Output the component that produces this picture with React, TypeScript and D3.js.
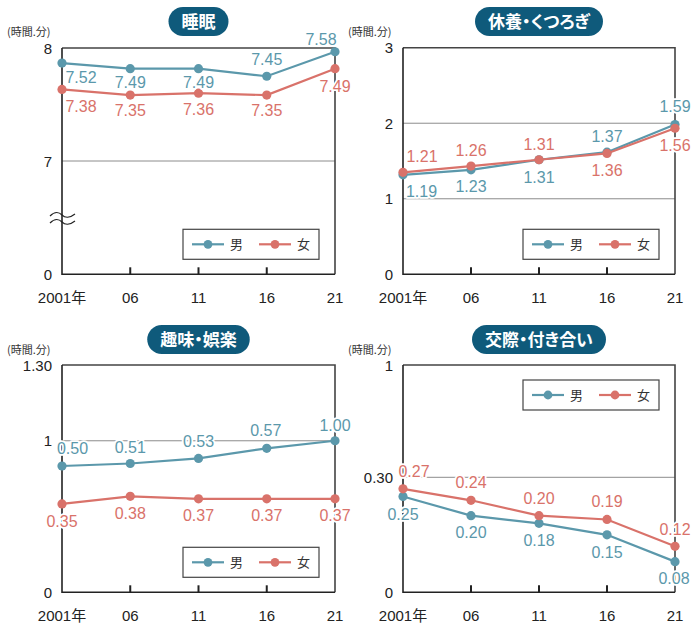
import React, { useEffect, useRef } from 'react';
import * as d3 from 'd3';

// ---- data (hours.minutes) ----
const years = ['2001年', '06', '11', '16', '21'];
const seriesNames = ['男', '女'];
const titles = ['睡眠', '休養・くつろぎ', '趣味・娯楽', '交際・付き合い'];
const unitLabel = '(時間.分)';

const sleepMale = ['7.52', '7.49', '7.49', '7.45', '7.58'];
const sleepFemale = ['7.38', '7.35', '7.36', '7.35', '7.49'];
const restMale = ['1.19', '1.23', '1.31', '1.37', '1.59'];
const restFemale = ['1.21', '1.26', '1.31', '1.36', '1.56'];
const hobbyMale = ['0.50', '0.51', '0.53', '0.57', '1.00'];
const hobbyFemale = ['0.35', '0.38', '0.37', '0.37', '0.37'];
const socialMale = ['0.25', '0.20', '0.18', '0.15', '0.08'];
const socialFemale = ['0.27', '0.24', '0.20', '0.19', '0.12'];

const sleepTicks = ['0', '7', '8'];
const restTicks = ['0', '1', '2', '3'];
const hobbyTicks = ['0', '1', '1.30'];
const socialTicks = ['0', '0.30', '1'];

const sleepGrid = ['7'];
const restGrid = ['1', '2'];
const hobbyGrid = ['1'];
const socialGrid = ['0.30'];

const toMin = (s: string) => {
  const [h, m] = s.split('.');
  return +h * 60 + (m ? +m : 0);
};

// ---- layout ----
const MALE = '#5b98ab';
const FEMALE = '#d9726a';
const TITLE_BG = '#0f5a7b';
const NUM_FONT = '"Liberation Sans", Arial, "Noto Sans CJK JP", sans-serif';
const CJK_FONT = '"Noto Sans CJK JP", "Noto Sans", sans-serif';

const panels = [
  {
    title: titles[0], male: sleepMale, female: sleepFemale, ticks: sleepTicks, grid: sleepGrid,
    x0: 62, x1: 335, yDomain: [0, 420, 480], yRange: [274.3, 161, 48],
    brk: true, legendTop: false, unitY: 32, titleY: 21.5,
    maleOff: [[19, 14], [0, 13.5], [0, 13], [0, -17], [-14, -13]],
    femaleOff: [[19, 17], [0, 15.5], [0, 16], [0, 15.5], [0, 17]],
  },
  {
    title: titles[1], male: restMale, female: restFemale, ticks: restTicks, grid: restGrid,
    x0: 403, x1: 675, yDomain: [0, 180], yRange: [274.3, 47.7],
    brk: false, legendTop: false, unitY: 32, titleY: 21.5,
    maleOff: [[18.5, 16], [0, 16], [0, 17], [0, -16], [0, -18]],
    femaleOff: [[19, -16], [0, -16], [0, -16], [0, 17], [0, 17]],
  },
  {
    title: titles[2], male: hobbyMale, female: hobbyFemale, ticks: hobbyTicks, grid: hobbyGrid,
    x0: 62, x1: 335, yDomain: [0, 90], yRange: [592.3, 365],
    brk: false, legendTop: false, unitY: 350, titleY: 339.5,
    maleOff: [[10.5, -18], [0, -16.5], [0, -17.5], [-1, -18], [0, -16]],
    femaleOff: [[0, 17], [0, 16.7], [0, 16.3], [0, 16.3], [0, 16.3]],
  },
  {
    title: titles[3], male: socialMale, female: socialFemale, ticks: socialTicks, grid: socialGrid,
    x0: 403, x1: 675, yDomain: [0, 30, 60], yRange: [592.3, 477.3, 365],
    brk: false, legendTop: true, unitY: 350, titleY: 339.5,
    maleOff: [[0, 17.5], [0, 17], [0, 17], [0, 17], [-1, 17]],
    femaleOff: [[11, -18], [0, -18], [0, -17], [0, -18], [0, -17]],
  },
];

export default function App() {
  const ref = useRef<SVGSVGElement>(null);

  useEffect(() => {
    const svg = d3.select(ref.current);
    svg.selectAll('*').remove();

    panels.forEach((p) => {
      const g = svg.append('g');
      const x = d3.scalePoint<string>().domain(years).range([p.x0, p.x1]);
      const y = d3.scaleLinear().domain(p.yDomain).range(p.yRange);
      const y0 = y(0);
      const yTop = y(p.yDomain[p.yDomain.length - 1]);

      // grid
      g.selectAll('line.grid').data(p.grid).enter().append('line')
        .attr('x1', p.x0).attr('x2', p.x1)
        .attr('y1', (d) => y(toMin(d))).attr('y2', (d) => y(toMin(d)))
        .attr('stroke', '#8c8c8c').attr('stroke-width', 1);

      // frame
      g.append('path')
        .attr('d', `M${p.x0},${yTop}H${p.x1}V${y0}`)
        .attr('fill', 'none').attr('stroke', '#444').attr('stroke-width', 1.6);
      g.append('path')
        .attr('d', `M${p.x0},${yTop}V${y0}H${p.x1}`)
        .attr('fill', 'none').attr('stroke', '#222').attr('stroke-width', 1.6);

      // x ticks (inner)
      g.selectAll('line.xt').data(years.slice(1, -1)).enter().append('line')
        .attr('x1', (d) => x(d)!).attr('x2', (d) => x(d)!)
        .attr('y1', y0).attr('y2', y0 - 7)
        .attr('stroke', '#222').attr('stroke-width', 2);

      // x labels
      g.selectAll('text.xl').data(years).enter().append('text')
        .attr('x', (d) => x(d)!).attr('y', y0 + 28.5)
        .attr('text-anchor', 'middle')
        .attr('font-family', NUM_FONT).attr('font-size', 15).attr('fill', '#222')
        .text((d) => d);

      // y labels
      g.selectAll('text.yl').data(p.ticks).enter().append('text')
        .attr('x', p.x0 - 10).attr('y', (d) => y(toMin(d)) + 5.5)
        .attr('text-anchor', 'end')
        .attr('font-family', NUM_FONT).attr('font-size', 15).attr('fill', '#222')
        .text((d) => d);

      // unit
      g.append('text')
        .attr('x', p.x0 - 55).attr('y', p.unitY + 4)
        .attr('font-family', CJK_FONT).attr('font-size', 11).attr('fill', '#333')
        .text(unitLabel);

      // break mark
      if (p.brk) {
        const bx = p.x0;
        [215, 222].forEach((by) => {
          g.append('path')
            .attr('d', `M${bx - 12},${by + 1} C${bx - 7},${by - 4} ${bx - 3},${by - 3} ${bx},${by} S${bx + 8},${by + 3} ${bx + 13},${by - 1}`)
            .attr('fill', 'none').attr('stroke', '#222').attr('stroke-width', 1.2);
        });
      }

      const series = [
        { vals: p.male, color: MALE, off: p.maleOff },
        { vals: p.female, color: FEMALE, off: p.femaleOff },
      ];
      const line = d3.line<string>()
        .x((_, i) => x(years[i])!)
        .y((d) => y(toMin(d)));

      series.forEach((s) => {
        g.append('path').attr('d', line(s.vals)!)
          .attr('fill', 'none').attr('stroke', s.color).attr('stroke-width', 2.2);
        g.selectAll(null).data(s.vals).enter().append('circle')
          .attr('cx', (_, i) => x(years[i])!).attr('cy', (d) => y(toMin(d)))
          .attr('r', 4.6).attr('fill', s.color);
      });

      series.forEach((s) => {
        g.selectAll(null).data(s.vals).enter().append('text')
          .attr('x', (_, i) => x(years[i])! + s.off[i][0])
          .attr('y', (d, i) => y(toMin(d)) + s.off[i][1] + 5.8)
          .attr('text-anchor', 'middle')
          .attr('font-family', NUM_FONT).attr('font-size', 16)
          .attr('fill', s.color)
          .attr('stroke', '#fff').attr('stroke-width', 3.5)
          .attr('paint-order', 'stroke')
          .attr('stroke-linejoin', 'round')
          .text((d) => d);
      });

      // legend
      const lw = 136, lh = 30;
      const lx = p.x1 - 16;
      const ly = p.legendTop ? yTop + 15 : y0 - 15 - lh;
      const lg = g.append('g').attr('transform', `translate(${lx - lw},${ly})`);
      lg.append('rect').attr('width', lw).attr('height', lh)
        .attr('fill', '#fff').attr('stroke', '#444').attr('stroke-width', 1.2);
      const items = [
        { name: seriesNames[0], color: MALE, off: 9 },
        { name: seriesNames[1], color: FEMALE, off: 76 },
      ];
      items.forEach((it) => {
        lg.append('line').attr('x1', it.off).attr('x2', it.off + 32)
          .attr('y1', lh / 2).attr('y2', lh / 2)
          .attr('stroke', it.color).attr('stroke-width', 2.2);
        lg.append('circle').attr('cx', it.off + 16).attr('cy', lh / 2).attr('r', 4.4).attr('fill', it.color);
        lg.append('text').attr('x', it.off + 38).attr('y', lh / 2 + 4.8)
          .attr('font-family', CJK_FONT).attr('font-size', 13).attr('fill', '#333')
          .text(it.name);
      });

      // title pill
      const cx = (p.x0 + p.x1) / 2;
      const tg = g.append('g');
      const rect = tg.append('rect');
      const t = tg.append('text')
        .attr('x', cx).attr('y', p.titleY + 6)
        .attr('text-anchor', 'middle')
        .attr('font-family', CJK_FONT).attr('font-size', 17).attr('font-weight', 'bold')
        .attr('fill', '#fff')
        .style('font-feature-settings', '"palt"')
        .text(p.title);
      const tw = (t.node() as SVGTextElement).getComputedTextLength();
      const pw = tw + 26;
      rect.attr('x', cx - pw / 2).attr('y', p.titleY - 14.5)
        .attr('width', pw).attr('height', 29).attr('rx', 14.5)
        .attr('fill', TITLE_BG);
    });
  }, []);

  return (
    <svg
      ref={ref}
      width={691}
      height={623}
      style={{ position: 'absolute', left: 0, top: 0, background: '#fff' }}
    />
  );
}
